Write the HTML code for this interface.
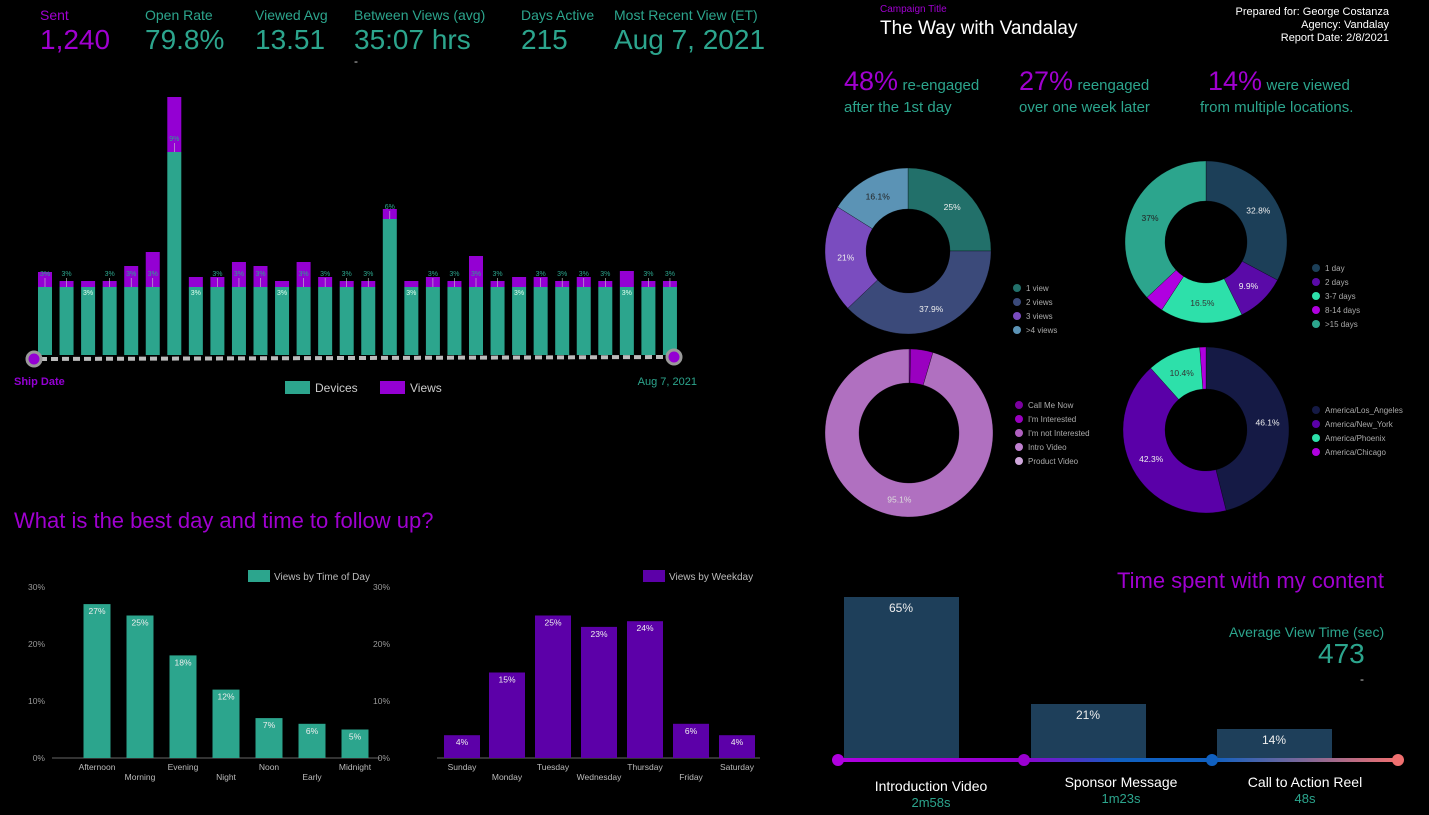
<!DOCTYPE html>
<html><head><meta charset="utf-8"><style>
body{margin:0;background:#000;width:1429px;height:815px;overflow:hidden;font-family:"Liberation Sans",sans-serif;position:relative}
.a{position:absolute;white-space:nowrap}
.t{color:#2ca58d}.p{color:#a000d0}
.l{font-size:14px;top:7px}
</style></head><body>
<div class="a p l" style="left:40px">Sent</div>
<div class="a p" style="left:40px;top:24px;font-size:28px">1,240</div>
<div class="a t l" style="left:145px">Open Rate</div>
<div class="a t" style="left:145px;top:24px;font-size:28px">79.8%</div>
<div class="a t l" style="left:255px">Viewed Avg</div>
<div class="a t" style="left:255px;top:24px;font-size:28px">13.51</div>
<div class="a t l" style="left:354px">Between Views (avg)</div>
<div class="a t" style="left:354px;top:24px;font-size:28px">35:07 hrs</div>
<div class="a" style="left:354px;top:54px;font-size:12px;color:#ccc">-</div>
<div class="a t l" style="left:521px">Days Active</div>
<div class="a t" style="left:521px;top:24px;font-size:28px">215</div>
<div class="a t l" style="left:614px">Most Recent View (ET)</div>
<div class="a t" style="left:614px;top:24px;font-size:28px">Aug 7, 2021</div>

<div class="a p" style="left:880px;top:4px;font-size:10px">Campaign Title</div>
<div class="a" style="left:880px;top:18px;font-size:19px;color:#fff">The Way with Vandalay</div>
<div class="a" style="right:40px;top:6px;font-size:11px;color:#fff;text-align:right;line-height:13px">Prepared for: George Costanza<br>Agency: Vandalay<br>Report Date: 2/8/2021</div>

<div class="a" style="left:844px;top:70px;line-height:22px"><span class="p" style="font-size:27px">48%</span> <span class="t" style="font-size:15px">re-engaged</span><br><span class="t" style="font-size:15px">after the 1st day</span></div>
<div class="a" style="left:1019px;top:70px;line-height:22px"><span class="p" style="font-size:27px">27%</span> <span class="t" style="font-size:15px">reengaged</span><br><span class="t" style="font-size:15px">over one week later</span></div>
<div class="a" style="left:1200px;top:70px;line-height:22px"><span class="p" style="font-size:27px;margin-left:8px">14%</span> <span class="t" style="font-size:15px">were viewed</span><br><span class="t" style="font-size:15px">from multiple locations.</span></div>

<div class="a p" style="left:14px;top:508px;font-size:22px">What is the best day and time to follow up?</div>
<div class="a p" style="left:1117px;top:568px;font-size:22px">Time spent with my content</div>
<div class="a t" style="left:1229px;top:624px;font-size:14px">Average View Time (sec)</div>
<div class="a t" style="left:1318px;top:638px;font-size:28px">473</div>
<div class="a" style="left:1360px;top:672px;font-size:12px;color:#ccc">-</div>

<svg id="s" class="a" style="left:0;top:0" width="1429" height="815" font-family="Liberation Sans, sans-serif"></svg>
<script>
const s=document.getElementById('s');let h='';
const pt=[272,281,281,281,266,252,97,277,277,262,266,281,262,277,281,281,209,281,277,281,256,281,277,277,281,277,281,271,281,281];
const gt=pt.map((v,i)=>i==6?152:i==16?219:287);
const inside=[2,7,11,17,22,27];
for(let i=0;i<30;i++){const x=38+i*21.55;h+=`<rect x="${x}" y="${pt[i]}" width="14" height="${gt[i]-pt[i]}" fill="#9400d3"/><rect x="${x}" y="${gt[i]}" width="14" height="${355-gt[i]}" fill="#2ca58d"/>`;
 const lab=i==6?'9%':i==16?'6%':'3%';
 if(inside.includes(i))h+=`<text x="${x+7}" y="295" font-size="7" fill="#dfe" text-anchor="middle">3%</text>`;
 else{h+=`<text x="${x+7}" y="${i==6?141:i==16?209:276}" font-size="7" fill="#2ca58d" text-anchor="middle">${lab}</text><line x1="${x+7}" x2="${x+7}" y1="${i==6?143:i==16?211:278}" y2="${gt[i]}" stroke="#ccc" stroke-width=".6"/>`;}}
h+=`<line x1="40" y1="359" x2="670" y2="357" stroke="#bbb" stroke-width="4" stroke-dasharray="7,4"/>`;
h+=`<circle cx="34" cy="359" r="7" fill="#9400d3" stroke="#999" stroke-width="3"/><circle cx="674" cy="357" r="7" fill="#9400d3" stroke="#999" stroke-width="3"/>`;
h+=`<text x="14" y="385" font-size="11" font-weight="bold" fill="#9400d3">Ship Date</text><text x="697" y="385" font-size="11" fill="#2ca58d" text-anchor="end">Aug 7, 2021</text>`;
h+=`<rect x="285" y="381" width="25" height="13" fill="#2ca58d"/><text x="315" y="392" font-size="12" fill="#ccc">Devices</text><rect x="380" y="381" width="25" height="13" fill="#9400d3"/><text x="410" y="392" font-size="12" fill="#ccc">Views</text>`;
function donut(cx,cy,R,r,vals,cols,labs,start=0){let a=start*2*Math.PI;const tot=vals.reduce((x,y)=>x+y);vals.forEach((v,i)=>{const b=a+v/tot*2*Math.PI;const p=(ang,rad)=>[cx+rad*Math.sin(ang),cy-rad*Math.cos(ang)];const [x1,y1]=p(a,R),[x2,y2]=p(b,R),[x3,y3]=p(b,r),[x4,y4]=p(a,r);const lg=b-a>Math.PI?1:0;h+=`<path d="M${x1},${y1}A${R},${R} 0 ${lg} 1 ${x2},${y2}L${x3},${y3}A${r},${r} 0 ${lg} 0 ${x4},${y4}Z" fill="${cols[i]}" stroke="#000" stroke-width=".3"/>`;if(labs[i]){const [lx,ly]=p((a+b)/2,(R+r)/2);h+=`<text x="${lx}" y="${ly+3}" font-size="8.5" fill="${labs[i][1]||'#eee'}" text-anchor="middle">${labs[i][0]}</text>`;}a=b;});}
donut(908,251,83,42,[25,37.9,21,16.1],['#22706a','#3b4a7a','#7a4cbf','#5b93b5'],[['25%'],['37.9%'],['21%'],['16.1%','#222']]);
donut(1206,242,81,41,[32.8,9.9,16.5,3.8,37],['#1c3f58','#5a0aa8','#2de0aa','#b000e0','#2ca58d'],[['32.8%'],['9.9%'],['16.5%','#333'],null,['37%','#222']]);
donut(909,433,84,50,[0.3,4.3,95.4],['#7b00a0','#9a00c0','#b070c0'],[null,null,['95.1%','#ddd']]);
donut(1206,430,83,41,[46.1,42.3,10.4,1.2],['#151a45','#5a00a8','#2de0aa','#b000e0'],[['46.1%'],['42.3%'],['10.4%','#333'],null]);
function leg(x,y,items){items.forEach((it,i)=>{h+=`<circle cx="${x}" cy="${y+i*14}" r="4" fill="${it[1]}"/><text x="${x+9}" y="${y+i*14+3}" font-size="8" fill="#aaa">${it[0]}</text>`;});}
leg(1017,288,[['1 view','#22706a'],['2 views','#3b4a7a'],['3 views','#7a4cbf'],['>4 views','#5b93b5']]);
leg(1316,268,[['1 day','#1c3f58'],['2 days','#5a0aa8'],['3-7 days','#2de0aa'],['8-14 days','#b000e0'],['>15 days','#2ca58d']]);
leg(1019,405,[['Call Me Now','#7b00a0'],["I'm Interested",'#9a00c0'],["I'm not Interested",'#b060c0'],['Intro Video','#c080d0'],['Product Video','#d0a8dc']]);
leg(1316,410,[['America/Los_Angeles','#151a45'],['America/New_York','#5a00a8'],['America/Phoenix','#2de0aa'],['America/Chicago','#b000e0']]);
function bars(x0,x1,ax,cents,w,vals,col,names,legx,legtxt){[0,10,20,30].forEach(v=>{h+=`<text x="${ax}" y="${758-v*5.7+3}" font-size="8.5" fill="#999" text-anchor="end">${v}%</text>`;});
 h+=`<line x1="${x0}" x2="${x1}" y1="758" y2="758" stroke="#666"/>`;
 vals.forEach((v,i)=>{const c=cents[i],y=758-v*5.7;h+=`<rect x="${c-w/2}" y="${y}" width="${w}" height="${758-y}" fill="${col}"/><text x="${c}" y="${y+10}" font-size="8.5" fill="#eee" text-anchor="middle">${v}%</text><text x="${c}" y="${i%2?780:770}" font-size="8.5" fill="#bbb" text-anchor="middle">${names[i]}</text>`;});
 h+=`<rect x="${legx}" y="570" width="22" height="12" fill="${col}"/><text x="${legx+26}" y="580" font-size="10" fill="#bbb">${legtxt}</text>`;}
bars(52,380,45,[97,140,183,226,269,312,355],27,[27,25,18,12,7,6,5],'#2ca58d',['Afternoon','Morning','Evening','Night','Noon','Early','Midnight'],248,'Views by Time of Day');
bars(437,760,390,[462,507,553,599,645,691,737],36,[4,15,25,23,24,6,4],'#5c00a8',['Sunday','Monday','Tuesday','Wednesday','Thursday','Friday','Saturday'],643,'Views by Weekday');
[[844,597,'65%'],[1031,704,'21%'],[1217,729,'14%']].forEach(b=>{h+=`<rect x="${b[0]}" y="${b[1]}" width="115" height="${758-b[1]}" fill="#1e3f5a"/><text x="${b[0]+57}" y="${b[1]+15}" font-size="12" fill="#eee" text-anchor="middle">${b[2]}</text>`;});
h+=`<defs><linearGradient id="g"><stop offset="0" stop-color="#b000e0"/><stop offset=".33" stop-color="#9000d0"/><stop offset=".5" stop-color="#1060c0"/><stop offset=".67" stop-color="#1060c0"/><stop offset="1" stop-color="#f07070"/></linearGradient></defs><rect x="838" y="758" width="560" height="4" fill="url(#g)"/>`;
[[838,'#b000e0'],[1024,'#9a00d0'],[1212,'#1060c0'],[1398,'#f07070']].forEach(d=>h+=`<circle cx="${d[0]}" cy="760" r="6" fill="${d[1]}"/>`);
[[931,'Introduction Video','2m58s',791],[1121,'Sponsor Message','1m23s',787],[1305,'Call to Action Reel','48s',787]].forEach(d=>{h+=`<text x="${d[0]}" y="${d[3]}" font-size="14" fill="#fff" text-anchor="middle">${d[1]}</text><text x="${d[0]}" y="${d[3]+16}" font-size="13" fill="#2ca58d" text-anchor="middle">${d[2]}</text>`;});
s.innerHTML=h;
</script>
</body></html>
